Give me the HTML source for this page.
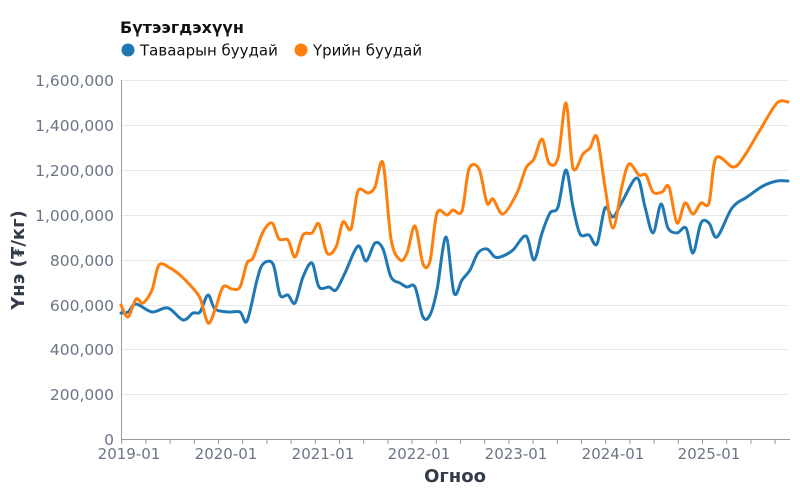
<!DOCTYPE html>
<html><head><meta charset="utf-8"><style>
body{margin:0;background:#fff}
svg{display:block;font-family:"DejaVu Sans","Liberation Sans",sans-serif}
</style></head><body>
<svg id="s" width="800" height="500" xmlns="http://www.w3.org/2000/svg">
<g stroke="#e8e8e8" stroke-width="1">
<line x1="121" x2="788" y1="80.5" y2="80.5"/><line x1="121" x2="788" y1="125.5" y2="125.5"/>
<line x1="121" x2="788" y1="170.5" y2="170.5"/><line x1="121" x2="788" y1="215.5" y2="215.5"/>
<line x1="121" x2="788" y1="260.5" y2="260.5"/><line x1="121" x2="788" y1="305.5" y2="305.5"/>
<line x1="121" x2="788" y1="349.5" y2="349.5"/><line x1="121" x2="788" y1="394.5" y2="394.5"/>
</g>
<line x1="121.5" x2="121.5" y1="80" y2="439" stroke="#999"/>
<line x1="121" x2="790" y1="439.5" y2="439.5" stroke="#999"/>
<g id="ticks" stroke="#999"></g>
<g fill="#6b7585" font-size="15.5" text-anchor="end">
<text x="114" y="86">1,600,000</text><text x="114" y="131">1,400,000</text>
<text x="114" y="176">1,200,000</text><text x="114" y="221">1,000,000</text>
<text x="114" y="266">800,000</text><text x="114" y="311">600,000</text>
<text x="114" y="355">400,000</text><text x="114" y="400">200,000</text>
<text x="114" y="445">0</text>
</g>
<g fill="#6b7585" font-size="15" text-anchor="middle">
<text x="129" y="459">2019-01</text><text x="226" y="459">2020-01</text>
<text x="323" y="459">2021-01</text><text x="419" y="459">2022-01</text>
<text x="516" y="459">2023-01</text><text x="613" y="459">2024-01</text>
<text x="709" y="459">2025-01</text>
</g>
<text x="455" y="482" text-anchor="middle" font-size="18" font-weight="bold" fill="#333a48">Огноо</text>
<text transform="translate(24,260) rotate(-90)" text-anchor="middle" font-size="18" font-weight="bold" fill="#333a48">Үнэ (₮/кг)</text>
<text x="120" y="33" font-size="16" font-weight="bold" fill="#111">Бүтээгдэхүүн</text>
<circle cx="128" cy="50" r="6.5" fill="#1f77b4"/>
<text x="140" y="55.5" font-size="15" fill="#111">Тавaарын буудай</text>
<circle cx="301" cy="50" r="6.5" fill="#ff7f0e"/>
<text x="313" y="55.5" font-size="15" fill="#111">Үрийн буудай</text>
<path id="b" fill="none" stroke="#1f77b4" stroke-width="3" stroke-linejoin="round" stroke-linecap="round"/>
<path id="o" fill="none" stroke="#ff7f0e" stroke-width="3" stroke-linejoin="round" stroke-linecap="round"/>
</svg>
<script>
document.querySelectorAll("text")[19].textContent="Тавaарын буудай".replace("a","а");
var B=[[121,313],[128,312],[136,304],[152,312],[168,308],[183,320],[193,313],[200,312],[208,295],[215,309],[228,312],[240,312],[247,321],[257,280],[263,264],[273,264],[280,295],[288,295],[295,303],[303,277],[312,263],[319,287],[329,287],[336,290],[345,273],[358,246],[366,261],[375,243],[383,249],[391,277],[400,283],[407,287],[415,287],[423,317],[430,315],[437,290],[446,237],[454,293],[462,280],[470,270],[478,253],[487,249],[495,257],[503,256],[513,250],[526,236],[534,260],[542,233],[550,213],[558,207],[566,170],[573,207],[580,234],[589,235],[597,244],[605,208],[613,217],[622,202],[637,178],[645,207],[653,233],[661,204],[668,228],[677,233],[686,228],[693,253],[701,223],[709,223],[717,237],[732,208],[747,197],[763,186],[777,181],[788,181]];
var O=[[121,305],[128,317],[136,299],[143,303],[152,290],[159,265],[170,268],[180,275],[190,285],[200,298],[208,323],[215,310],[223,287],[232,289],[240,287],[247,263],[253,258],[263,232],[272,223],[279,239],[288,240],[295,257],[303,235],[312,233],[319,224],[327,253],[336,247],[343,222],[351,229],[358,191],[368,193],[375,187],[383,163],[391,239],[400,260],[407,253],[415,226],[423,264],[430,261],[437,213],[447,215],[453,210],[462,211],[469,169],[479,169],[487,203],[493,199],[503,214],[517,193],[526,168],[534,159],[542,139],[549,163],[558,158],[566,103],[573,168],[583,154],[590,148],[597,137],[605,187],[613,228],[622,186],[629,164],[639,175],[646,175],[653,192],[662,192],[669,187],[677,223],[685,203],[693,214],[701,203],[709,203],[716,158],[733,167],[743,158],[760,130],[777,103],[788,102]];
function cr(p){var d="M"+p[0][0]+","+p[0][1];for(var i=0;i<p.length-1;i++){var a=p[i-1]||p[i],b=p[i],c=p[i+1],e=p[i+2]||c;
var t=0.16;d+=" C"+(b[0]+(c[0]-a[0])*t)+","+(b[1]+(c[1]-a[1])*t)+" "+(c[0]-(e[0]-b[0])*t)+","+(c[1]-(e[1]-b[1])*t)+" "+c[0]+","+c[1];}return d;}
document.getElementById("b").setAttribute("d",cr(B));
document.getElementById("o").setAttribute("d",cr(O));
var g=document.getElementById("ticks"),h="";
for(var x=121.7;x<792;x+=24.2){h+='<line x1="'+x+'" x2="'+x+'" y1="439" y2="444"/>';}
g.innerHTML=h;
</script>
</body></html>
